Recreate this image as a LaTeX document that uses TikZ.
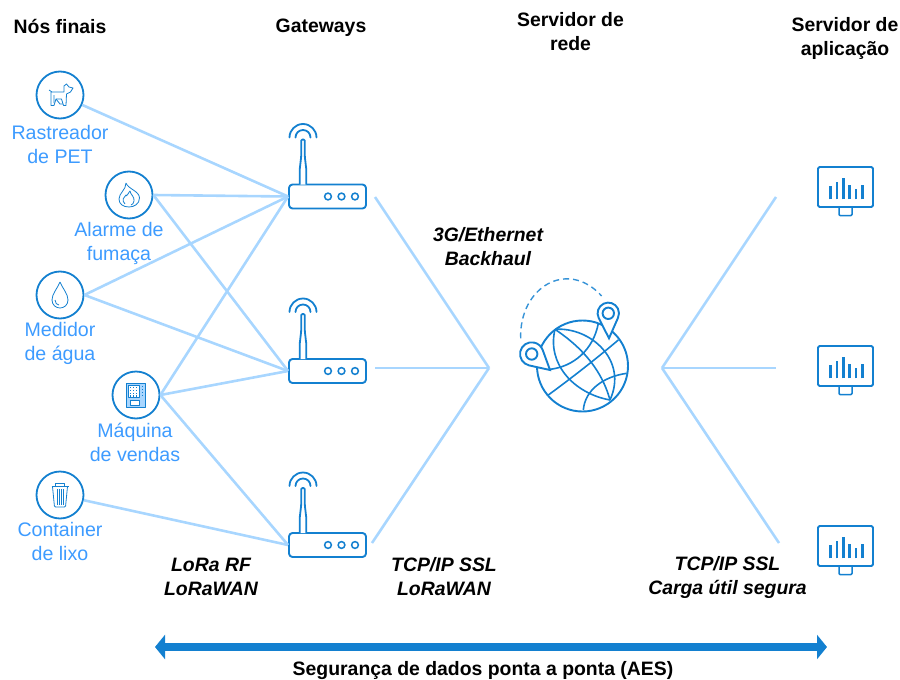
\documentclass[tikz,border=0pt]{standalone}
\usepackage{fontspec}
\setmainfont{Liberation Sans}
\usetikzlibrary{arrows.meta}

\definecolor{iconblue}{HTML}{1380D0}
\definecolor{wireblue}{HTML}{A8D6FF}
\definecolor{textblue}{HTML}{3D9BFF}

\begin{document}
\begin{tikzpicture}[x=1pt,y=-1pt,node distance=46pt,line join=round,
    end node/.style={circle,draw=iconblue,line width=1.8pt,fill=white,minimum size=47pt,inner sep=0pt},
    gate node/.style={rectangle,draw=iconblue,line width=1.9pt,rounded corners=3.5pt,fill=white,minimum width=77pt,minimum height=24pt,inner sep=0pt},
    screen node/.style={rectangle,draw=iconblue,line width=1.9pt,rounded corners=1.5pt,fill=white,minimum width=55pt,minimum height=40pt,inner sep=0pt},
    end label/.style={text=textblue,align=center,font=\fontsize{19.6}{24}\selectfont},
    head label/.style={align=center,font=\fontsize{19.4}{24}\selectfont\bfseries},
    link label/.style={align=center,font=\fontsize{19.4}{24}\selectfont\bfseries\itshape},
    wire/.style={draw=wireblue,line width=2.6pt},
    icon/.style={draw=iconblue,line width=0.8pt},
    pin/.style={draw=iconblue,line width=1.9pt,fill=white,line join=miter},
    antenna/.pic={
      \draw[iconblue,line width=1.8pt,fill=white,rounded corners=1.2pt] (-3.3,-12) -- (-3.3,-27) -- (-1.8,-40) -- (-1.8,-57) -- (1.8,-57) -- (1.8,-40) -- (3.3,-27) -- (3.3,-12);
      \draw[iconblue,line width=1.8pt,line cap=round] (-13.5,-59) arc[start angle=180,end angle=360,radius=13.5];
      \draw[iconblue,line width=1.8pt,line cap=round] (-7.5,-59) arc[start angle=180,end angle=360,radius=7.5];
    },
    bars/.pic={
      \foreach \x/\t in {-14.8/-1.3,-8.5/-4.7,-2.2/-8.7,4.2/-2,10.5/2.3,16.8/-2}
        \draw[iconblue,line width=2.6pt] (\x,12.3) -- (\x,\t);
      \draw[iconblue,line width=1.5pt,rounded corners=1pt] (-6.5,20) -- (-6.5,28.5) -- (6.5,28.5) -- (6.5,20);
    }]

  \useasboundingbox (0,0) rectangle (900,680);

  % end devices
  \node[end node] (pet) at (60,95) {};
  \node[end node] (smoke) at (129,195) {};
  \node[end node] (water) at (60,295) {};
  \node[end node] (vending) at (136,395) {};
  \node[end node] (trash) at (60,495) {};

  % gateways
  \node[gate node] (gw1) at (327.5,196.5) {};
  \node[gate node] (gw2) at (327.5,371) {};
  \node[gate node] (gw3) at (327.5,545) {};

  % servers
  \node[screen node] (app1) at (845.5,187) {};
  \node[screen node] (app2) at (845.5,366) {};
  \node[screen node] (app3) at (845.5,546) {};

  % fan ends
  \coordinate (in1) at (375,197);
  \coordinate (in2) at (375,368);
  \coordinate (in3) at (372,543);
  \coordinate (inhub) at (489,368);
  \coordinate (outhub) at (662,368);
  \coordinate (out1) at (776,197);
  \coordinate (out2) at (776,368);
  \coordinate (out3) at (779,543);

  \path[wire]
    (pet) edge (gw1.west)
    (smoke.east) edge (gw1.west)
                 edge (gw2.west)
    (water.east) edge (gw1.west)
                 edge (gw2.west)
    (vending.east) edge (gw1.west)
                   edge (gw2.west)
                   edge (gw3.west)
    (trash) edge (gw3.west)
    (inhub) edge (in1)
            edge (in2)
            edge (in3)
    (outhub) edge (out1)
             edge (out2)
             edge (out3);

  \foreach \g in {gw1,gw2,gw3} {
    \pic at (\g.center) [xshift=-24.5pt] {antenna};
    \foreach \x in {0.5,14,27.5}
      \draw[iconblue,line width=1.5pt,fill=white] ([xshift=\x pt]\g.center) circle[radius=3.4];
  }
  \foreach \s in {app1,app2,app3}
    \pic at (\s.center) {bars};

  % icons inside the circles
  \draw[icon,shift={(pet.center)}] (-11,-5) -- (-8,-3) -- (4,-3) -- (4,-9) -- (6.5,-11) -- (9,-8) -- (13,-7) -- (10.5,-3) -- (6.5,-1) -- (6,10.5) -- (3.5,10.5) -- (1.5,4) -- (-4,4) -- (-6,10.5) -- (-9,10.5) -- (-9,-3);
  \draw[icon,shift={(pet.center)}] (-6,0) -- (-6,8) (-4,4) -- (0,9) -- (3,9);
  \draw[icon,shift={(smoke.center)}] (-3,-12) .. controls (-1,-6) and (10.5,-4) .. (10.5,3) .. controls (10.5,9) and (5,12) .. (0,12) .. controls (-6,12) and (-10,9) .. (-10,4) .. controls (-10,-2) and (-3,-5) .. (-3,-12);
  \draw[icon,shift={(smoke.center)}] (-4,9) .. controls (-8,5) and (-5,2) .. (-3,0) .. controls (-3,3) and (0,-3) .. (1,-4) .. controls (1,-1) and (6,2) .. (5,6) .. controls (5,8) and (3,10) .. (2,10);
  \draw[icon,shift={(water.center)}] (0,-13) .. controls (3,-6) and (8,-1) .. (8,5) .. controls (8,10) and (4,13) .. (0,13) .. controls (-4,13) and (-8,10) .. (-8,5) .. controls (-8,-1) and (-3,-6) .. (0,-13);
  \draw[icon,shift={(water.center)}] (-5,5) .. controls (-5,8) and (-3,10) .. (-1,10);
  \draw[icon,shift={(vending.center)},fill=wireblue] (-9.5,-12) rectangle (9.5,12);
  \draw[icon,shift={(vending.center)},fill=white] (-7.5,-9.5) rectangle (3.5,2.5) (-6,5) rectangle (3,10);
  \foreach \y in {-7.5,-4.5,-1.5,1}
    \draw[iconblue,line width=1.1pt,dotted,shift={(vending.center)}] (-6,\y) -- (2.5,\y);
  \draw[iconblue,line width=1pt,dotted,shift={(vending.center)}] (6.5,-9) -- (6.5,2);
  \draw[icon,shift={(trash.center)}] (-8.5,-8.5) -- (8.5,-8.5) (-4.5,-8.5) -- (-4.5,-11.5) -- (4.5,-11.5) -- (4.5,-8.5);
  \draw[icon,shift={(trash.center)},rounded corners=1pt] (-7.5,-8.5) -- (-5.5,12) -- (5.5,12) -- (7.5,-8.5);
  \foreach \x in {-3,-1,1,3}
    \draw[iconblue,line width=0.5pt,shift={(trash.center)}] (\x,-6) -- (\x,9.5);

  % globe
  \node[circle,draw=iconblue,line width=1.9pt,fill=white,minimum size=91pt,inner sep=0pt] (globe) at (582.5,366) {};
  \begin{scope}[iconblue,line width=1.6pt,shift={(510,270)},x=0.3333pt,y=-0.3333pt]
    \coordinate (gl) at (135,178);
    \coordinate (gb) at (300,390);
    \draw (gl) .. controls (190,215) and (270,280) .. (gb);
    \draw (gl) .. controls (110,280) and (190,370) .. (gb);
    \draw (gl) .. controls (240,170) and (355,270) .. (gb);
    \draw (115,375) .. controls (190,320) and (260,265) .. (325,210);
    \draw (120,298) .. controls (190,290) and (250,240) .. (265,160);
    \draw (220,420) .. controls (225,360) and (280,320) .. (350,310);
  \end{scope}
  \coordinate (dashA) at (520.7,338.3);
  \coordinate (dashB) at (601.7,296);
  \draw[iconblue!85,line width=1.4pt,dash pattern=on 6pt off 4pt] (dashA) .. controls (519,288) and (567,258) .. (dashB);

  % pins
  \coordinate (pinA) at (608.3,313.3);
  \coordinate (pinB) at (531.7,354);
  \coordinate (tipA) at (609,338.3);
  \coordinate (tipB) at (550,370);
  \draw[pin] (pinA) ++(154:10.7) arc[start angle=154,end angle=386,radius=10.7] -- (tipA) -- cycle;
  \draw[pin] (pinA) circle[radius=5.7];
  \draw[pin] (pinB) ++(102:11.7) arc[start angle=102,end angle=340,radius=11.7] -- (tipB) -- cycle;
  \draw[pin] (pinB) circle[radius=5.7];

  % bottom arrow
  \coordinate (secL) at (155,647);
  \coordinate (secR) at (827,647);
  \draw[iconblue,line width=8pt,{Triangle[length=10pt,width=24pt]}-{Triangle[length=10pt,width=24pt]}] (secL) -- (secR);

  % texts
  \node[head label] (hEnd) at (60,26) {Nós finais};
  \node[head label] (hGate) at (321,28) {Gateways};
  \node[head label] (hNet) at (570.5,31.5) {Servidor de\\rede};
  \node[head label] (hApp) at (845,38.5) {Servidor de\\aplicação};

  \node[end label] (lPet) at (60,144) {Rastreador\\de PET};
  \node[end label] (lSmoke) at (119,243) {Alarme de\\fumaça};
  \node[end label] (lWater) at (60,343) {Medidor\\de água};
  \node[end label] (lVending) at (135,442) {Máquina\\de vendas};
  \node[end label] (lTrash) at (60,541) {Container\\de lixo};

  \node[link label] (lBack) at (488,247) {3G/Ethernet\\Backhaul};
  \node[link label] (lRf) at (211,577) {LoRa RF\\LoRaWAN};
  \node[link label] (lTcp) at (444,577) {TCP/IP SSL\\LoRaWAN};
  \node[link label] (lApp) at (727.5,577) {TCP/IP SSL\\Carga útil segura};
  \node[head label] (lSec) at (483,670.5) {Segurança de dados ponta a ponta (AES)};
\end{tikzpicture}
\end{document}
